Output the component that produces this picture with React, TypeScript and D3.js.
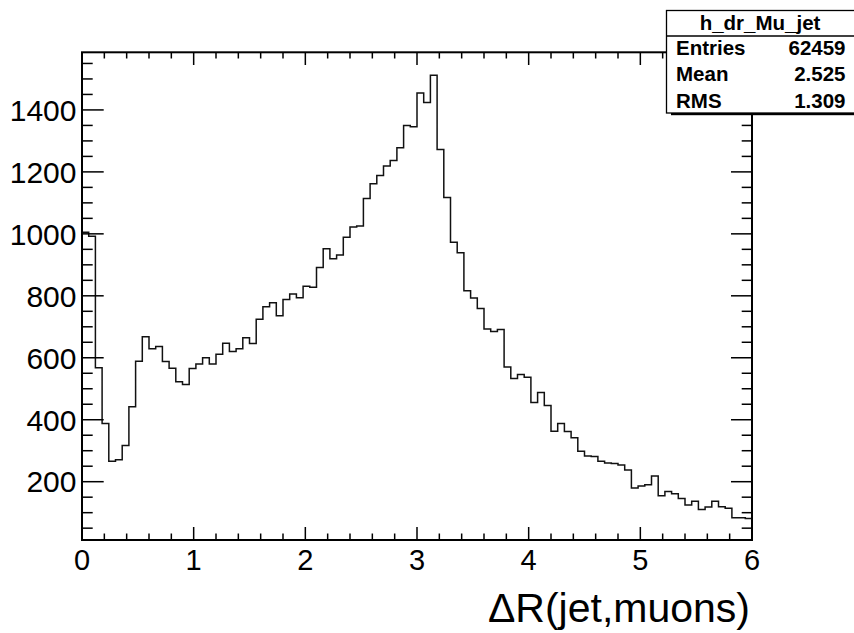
import React from "react";
import * as d3 from "d3";

const binValues: number[] = [
  1005, 992, 568, 388, 266, 271, 317, 442, 589, 668,
  629, 636, 588, 566, 523, 514, 565, 580, 600, 580,
  611, 647, 620, 629, 665, 646, 724, 765, 778, 736,
  788, 806, 794, 831, 828, 891, 952, 920, 932, 989,
  1022, 1025, 1114, 1162, 1188, 1219, 1237, 1278, 1350, 1346,
  1455, 1424, 1512, 1272, 1117, 973, 939, 816, 793, 759,
  693, 685, 691, 570, 533, 546, 537, 456, 488, 446,
  363, 388, 362, 342, 298, 283, 281, 266, 260, 259,
  254, 238, 180, 186, 190, 218, 155, 168, 161, 146,
  125, 137, 110, 118, 137, 119, 114, 84, 84, 81,
];
const xRange: [number, number] = [0, 6];
const yRange: [number, number] = [11.8, 1586];
const xMajorTicks = [0, 1, 2, 3, 4, 5, 6];
const yMajorTicks = [200, 400, 600, 800, 1000, 1200, 1400];
const statsTitle = "h_dr_Mu_jet";
const statsLabels = ["Entries", "Mean", "RMS"];
const statsValues = ["62459", "2.525", "1.309"];
const axisTitle = "ΔR(jet,muons)";

const FONT = "'Liberation Sans', Arial, Helvetica, sans-serif";

export default function App() {
  const L = 82, R = 752, T = 52.3, B = 540;
  const x = d3.scaleLinear().domain(xRange).range([L, R]);
  const y = d3.scaleLinear().domain(yRange).range([B, T]);
  const nb = binValues.length;
  const bw = (xRange[1] - xRange[0]) / nb;

  let d = `M${x(0)},${y(yRange[0])}`;
  binValues.forEach((v, i) => {
    d += `L${x(i * bw)},${y(v)}L${x((i + 1) * bw)},${y(v)}`;
  });
  d += `L${x(xRange[1])},${y(yRange[0])}`;

  const xMinor = d3.range(0, 6.0001, 0.2).filter(
    (t) => !xMajorTicks.some((m) => Math.abs(m - t) < 1e-6)
  );
  const yMinor = d3
    .range(50, yRange[1], 50)
    .filter((t) => t >= yRange[0] && t % 200 !== 0);

  return (
    <svg
      width={854}
      height={633}
      style={{ position: "absolute", left: 0, top: 0, background: "#fff" }}
      fontFamily={FONT}
    >
      <rect x={0} y={0} width={854} height={633} fill="#fff" />
      <path d={d} fill="none" stroke="#111" strokeWidth={1.5} />
      <rect x={L} y={T} width={R - L} height={B - T} fill="none" stroke="#000" strokeWidth={2} />
      {xMajorTicks.map((t) => (
        <g key={"xm" + t}>
          <line x1={x(t)} x2={x(t)} y1={B} y2={B - 13} stroke="#000" strokeWidth={1.5} />
          <line x1={x(t)} x2={x(t)} y1={T} y2={T + 12.7} stroke="#000" strokeWidth={1.5} />
          <text x={x(t)} y={570} textAnchor="middle" fontSize={29} fill="#000">
            {t}
          </text>
        </g>
      ))}
      {xMinor.map((t, i) => (
        <g key={"xn" + i}>
          <line x1={x(t)} x2={x(t)} y1={B} y2={B - 6.5} stroke="#000" strokeWidth={1.5} />
          <line x1={x(t)} x2={x(t)} y1={T} y2={T + 6.2} stroke="#000" strokeWidth={1.5} />
        </g>
      ))}
      {yMajorTicks.map((t) => (
        <g key={"ym" + t}>
          <line x1={L} x2={L + 21.7} y1={y(t)} y2={y(t)} stroke="#000" strokeWidth={1.5} />
          <line x1={R} x2={R - 21} y1={y(t)} y2={y(t)} stroke="#000" strokeWidth={1.5} />
          <text x={76.5} y={y(t)} dy="0.36em" textAnchor="end" fontSize={30} fill="#000">
            {t}
          </text>
        </g>
      ))}
      {yMinor.map((t) => (
        <g key={"yn" + t}>
          <line x1={L} x2={L + 10.7} y1={y(t)} y2={y(t)} stroke="#000" strokeWidth={1.5} />
          <line x1={R} x2={R - 10.3} y1={y(t)} y2={y(t)} stroke="#000" strokeWidth={1.5} />
        </g>
      ))}
      <text x={750} y={622} textAnchor="end" fontSize={41} fill="#000">
        {axisTitle}
      </text>
      <rect x={671} y={112} width={183} height={3.2} fill="#000" />
      <rect x={666.5} y={10.5} width={190} height={102.5} fill="#fff" stroke="#000" strokeWidth={1.3} />
      <line x1={666.5} x2={854} y1={36} y2={36} stroke="#000" strokeWidth={1.3} />
      <text x={760} y={29.5} textAnchor="middle" fontSize={20.5} fontWeight="bold" fill="#000">
        {statsTitle}
      </text>
      {statsLabels.map((lab, i) => (
        <g key={lab}>
          <text x={676} y={55 + i * 26.3} fontSize={20.5} fontWeight="bold" fill="#000">
            {lab}
          </text>
          <text x={845.5} y={55 + i * 26.3} textAnchor="end" fontSize={20.5} fontWeight="bold" fill="#000">
            {statsValues[i]}
          </text>
        </g>
      ))}
    </svg>
  );
}
